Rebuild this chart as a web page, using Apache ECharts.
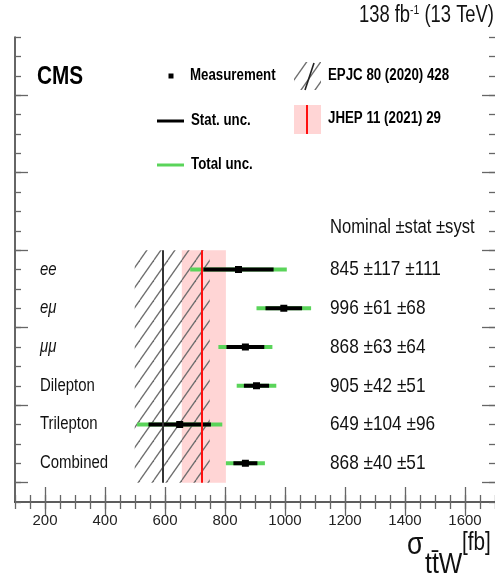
<!DOCTYPE html>
<html>
<head>
<meta charset="utf-8">
<script src="https://cdn.jsdelivr.net/npm/echarts@6/dist/echarts.min.js"></script>
<style>
html,body{margin:0;padding:0;background:#fff;}
#chart{width:495px;height:578px;}
</style>
</head>
<body>
<div id="chart"></div>
<script>
// ---- data ----
const categories = ['ee', 'eμ', 'μμ', 'Dilepton', 'Trilepton', 'Combined'];
const italicCats = [true, true, true, false, false, false];
const nominal = [845, 996, 868, 905, 649, 868];
const statUnc = [117, 61, 63, 42, 104, 40];
const systUnc = [111, 68, 64, 51, 96, 51];
const totalUnc = [161, 91, 90, 66, 142, 65];
// theory predictions: [central, low, high]
const epjc = [592, 499, 749];
const jhep = [723, 656, 803];
const xTicks = [200, 400, 600, 800, 1000, 1200, 1400, 1600];

const FONT = "'Liberation Sans', Arial, Helvetica, sans-serif";
const SX = 0.83; // condensed look of the reference text
const GREEN = '#5ad45a';
const PINK = '#ffd5d5';
const RED = '#ff1010';

// hatch pattern
function makeHatch() {
  const w = 14, h = 20;
  const c = document.createElement('canvas');
  c.width = w; c.height = h;
  const g = c.getContext('2d');
  g.strokeStyle = '#6e6e6e';
  g.lineWidth = 1.3;
  for (let k = -1; k <= 1; k++) {
    g.beginPath();
    g.moveTo(k * w, h);
    g.lineTo(k * w + w, 0);
    g.stroke();
  }
  return c;
}
const hatchPattern = { image: makeHatch(), repeat: 'repeat' };

const chart = echarts.init(document.getElementById('chart'), null, { renderer: 'canvas' });

const rowY = i => 12 - 2 * i;
const bandLo = 1, bandHi = 13;

const AX = '#333', TK = '#666';
function xAx(pos, major) {
  const o = {
    type: 'value', min: 100, max: 1700, position: pos,
    axisLine: { show: major, lineStyle: { color: pos === 'bottom' ? '#111' : '#777', width: pos === 'bottom' ? 2 : 1.5 } },
    splitLine: { show: false },
    axisLabel: { show: false },
    axisTick: { show: true, inside: true, lineStyle: { color: TK, width: 1.3 } }
  };
  if (major) {
    o.axisTick.customValues = xTicks;
    o.axisTick.length = pos === 'bottom' ? 15 : 14;
    if (pos === 'bottom') {
      o.axisLabel = { show: true, customValues: xTicks, formatter: v => String(v), fontFamily: FONT, fontSize: 15, color: '#222', margin: 11 };
    }
  } else {
    o.interval = 50;
    o.axisTick.length = 7;
  }
  return o;
}
const yMajor = [1, 5, 9, 13, 17, 21];
function yAx(pos, major) {
  const o = {
    type: 'value', min: 0, max: 24, position: pos,
    axisLine: { show: major && pos === 'left', lineStyle: { color: AX, width: 1.5 } },
    splitLine: { show: false },
    axisLabel: { show: false },
    axisTick: { show: true, inside: true, lineStyle: { color: TK, width: 1.3 } }
  };
  if (major) {
    o.axisTick.customValues = yMajor;
    o.axisTick.length = 13;
  } else {
    o.interval = 1;
    o.axisTick.length = 6;
  }
  return o;
}

function T(x, y, text, size, extra, sx) {
  const st = Object.assign({ text: text, fontFamily: FONT, fontSize: size, fill: '#111', verticalAlign: 'middle', align: 'left' }, extra || {});
  return { type: 'text', x: x, y: y, scaleX: sx || SX, style: st };
}

const option = {
  animation: false,
  backgroundColor: '#fff',
  grid: { left: 15, right: 0, top: 37, bottom: 76, containLabel: false },
  xAxis: [xAx('bottom', true), xAx('bottom', false), xAx('top', true), xAx('top', false)],
  yAxis: [yAx('left', true), yAx('left', false), yAx('right', true), yAx('right', false)],
  series: [
    {
      type: 'line', xAxisIndex: 0, yAxisIndex: 0, data: [], silent: true,
      markArea: {
        silent: true,
        data: [
          [{ coord: [jhep[1], bandLo], itemStyle: { color: PINK } }, { coord: [jhep[2], bandHi] }]
        ]
      },
      markLine: {
        silent: true, symbol: 'none', label: { show: false },
        data: [
          [{ coord: [jhep[0], bandLo], lineStyle: { color: RED, width: 2, type: 'solid' } }, { coord: [jhep[0], bandHi] }]
        ]
      }
    },
    {
      type: 'line', xAxisIndex: 0, yAxisIndex: 0, data: [], silent: true,
      markArea: {
        silent: true,
        data: [
          [{ coord: [epjc[1], bandLo], itemStyle: { color: hatchPattern } }, { coord: [epjc[2], bandHi] }]
        ]
      },
      markLine: {
        silent: true, symbol: 'none', label: { show: false },
        data: [
          [{ coord: [epjc[0], bandLo], lineStyle: { color: '#333', width: 2, type: 'solid' } }, { coord: [epjc[0], bandHi] }]
        ]
      }
    },
    {
      type: 'custom', xAxisIndex: 0, yAxisIndex: 0,
      data: categories.map((c, i) => [nominal[i], rowY(i), statUnc[i], totalUnc[i], i]),
      renderItem: function (params, api) {
        const v = api.value(0), y = api.value(1), s = api.value(2), t = api.value(3), i = api.value(4);
        const pc = api.coord([v, y]);
        const tl = api.coord([v - t, y]), tr = api.coord([v + t, y]);
        const sl = api.coord([v - s, y]), sr = api.coord([v + s, y]);
        return {
          type: 'group',
          children: [
            { type: 'line', shape: { x1: tl[0], y1: pc[1], x2: tr[0], y2: pc[1] }, style: { stroke: GREEN, lineWidth: 4 } },
            { type: 'line', shape: { x1: sl[0], y1: pc[1], x2: sr[0], y2: pc[1] }, style: { stroke: '#000', lineWidth: 4 } },
            { type: 'rect', shape: { x: pc[0] - 3.5, y: pc[1] - 3.5, width: 7, height: 7 }, style: { fill: '#000' } },
            T(40, pc[1], categories[i], 18, { fontStyle: italicCats[i] ? 'italic' : 'normal' }),
            T(330, pc[1], nominal[i] + ' ±' + statUnc[i] + ' ±' + systUnc[i], 21, null, 0.82)
          ]
        };
      }
    }
  ],
  graphic: [
    // top-right luminosity label
    { type: 'text', x: 494, y: 4, scaleX: 0.8, style: { text: '138 fb{sup|-1} (13 TeV)', align: 'right', verticalAlign: 'top', rich: { sup: { fontSize: 13, verticalAlign: 'top', padding: [0, 0, 10, 0], fontFamily: FONT, fill: '#111' } }, fontFamily: FONT, fontSize: 23, fill: '#111' } },
    // CMS
    T(37, 77, 'CMS', 25, { fontWeight: 'bold', fill: '#000' }),
    // legend: measurement
    { type: 'rect', shape: { x: 168.5, y: 73.5, width: 5, height: 5 }, style: { fill: '#000' } },
    T(190, 76, 'Measurement', 16, { fontWeight: 'bold', fill: '#000' }),
    { type: 'line', shape: { x1: 157, y1: 121, x2: 184, y2: 121 }, style: { stroke: '#000', lineWidth: 3 } },
    T(191, 121, 'Stat. unc.', 16, { fontWeight: 'bold', fill: '#000' }),
    { type: 'line', shape: { x1: 157, y1: 165, x2: 184, y2: 165 }, style: { stroke: GREEN, lineWidth: 3 } },
    T(191, 165, 'Total unc.', 16, { fontWeight: 'bold', fill: '#000' }),
    // legend: EPJC hatch
    { type: 'rect', shape: { x: 294, y: 62, width: 27, height: 28 }, style: { fill: hatchPattern } },
    { type: 'line', shape: { x1: 305, y1: 90, x2: 314, y2: 63 }, style: { stroke: '#222', lineWidth: 1.6 } },
    T(328, 76, 'EPJC 80 (2020) 428', 16, { fontWeight: 'bold', fill: '#000' }),
    // legend: JHEP
    { type: 'rect', shape: { x: 294, y: 105, width: 27, height: 29 }, style: { fill: PINK } },
    { type: 'line', shape: { x1: 307, y1: 105, x2: 307, y2: 134 }, style: { stroke: RED, lineWidth: 2 } },
    T(328, 119, 'JHEP 11 (2021) 29', 16, { fontWeight: 'bold', fill: '#000' }),
    // column header
    T(330, 227, 'Nominal ±stat ±syst', 20),
    // axis title
    T(407, 561, 'σ', 32, { verticalAlign: 'bottom' }),
    T(425, 580, 'tt\u0304W', 30, { verticalAlign: 'bottom' }),
    T(462, 556, '[fb]', 25, { verticalAlign: 'bottom' })
  ]
};
chart.setOption(option);
</script>
</body>
</html>
